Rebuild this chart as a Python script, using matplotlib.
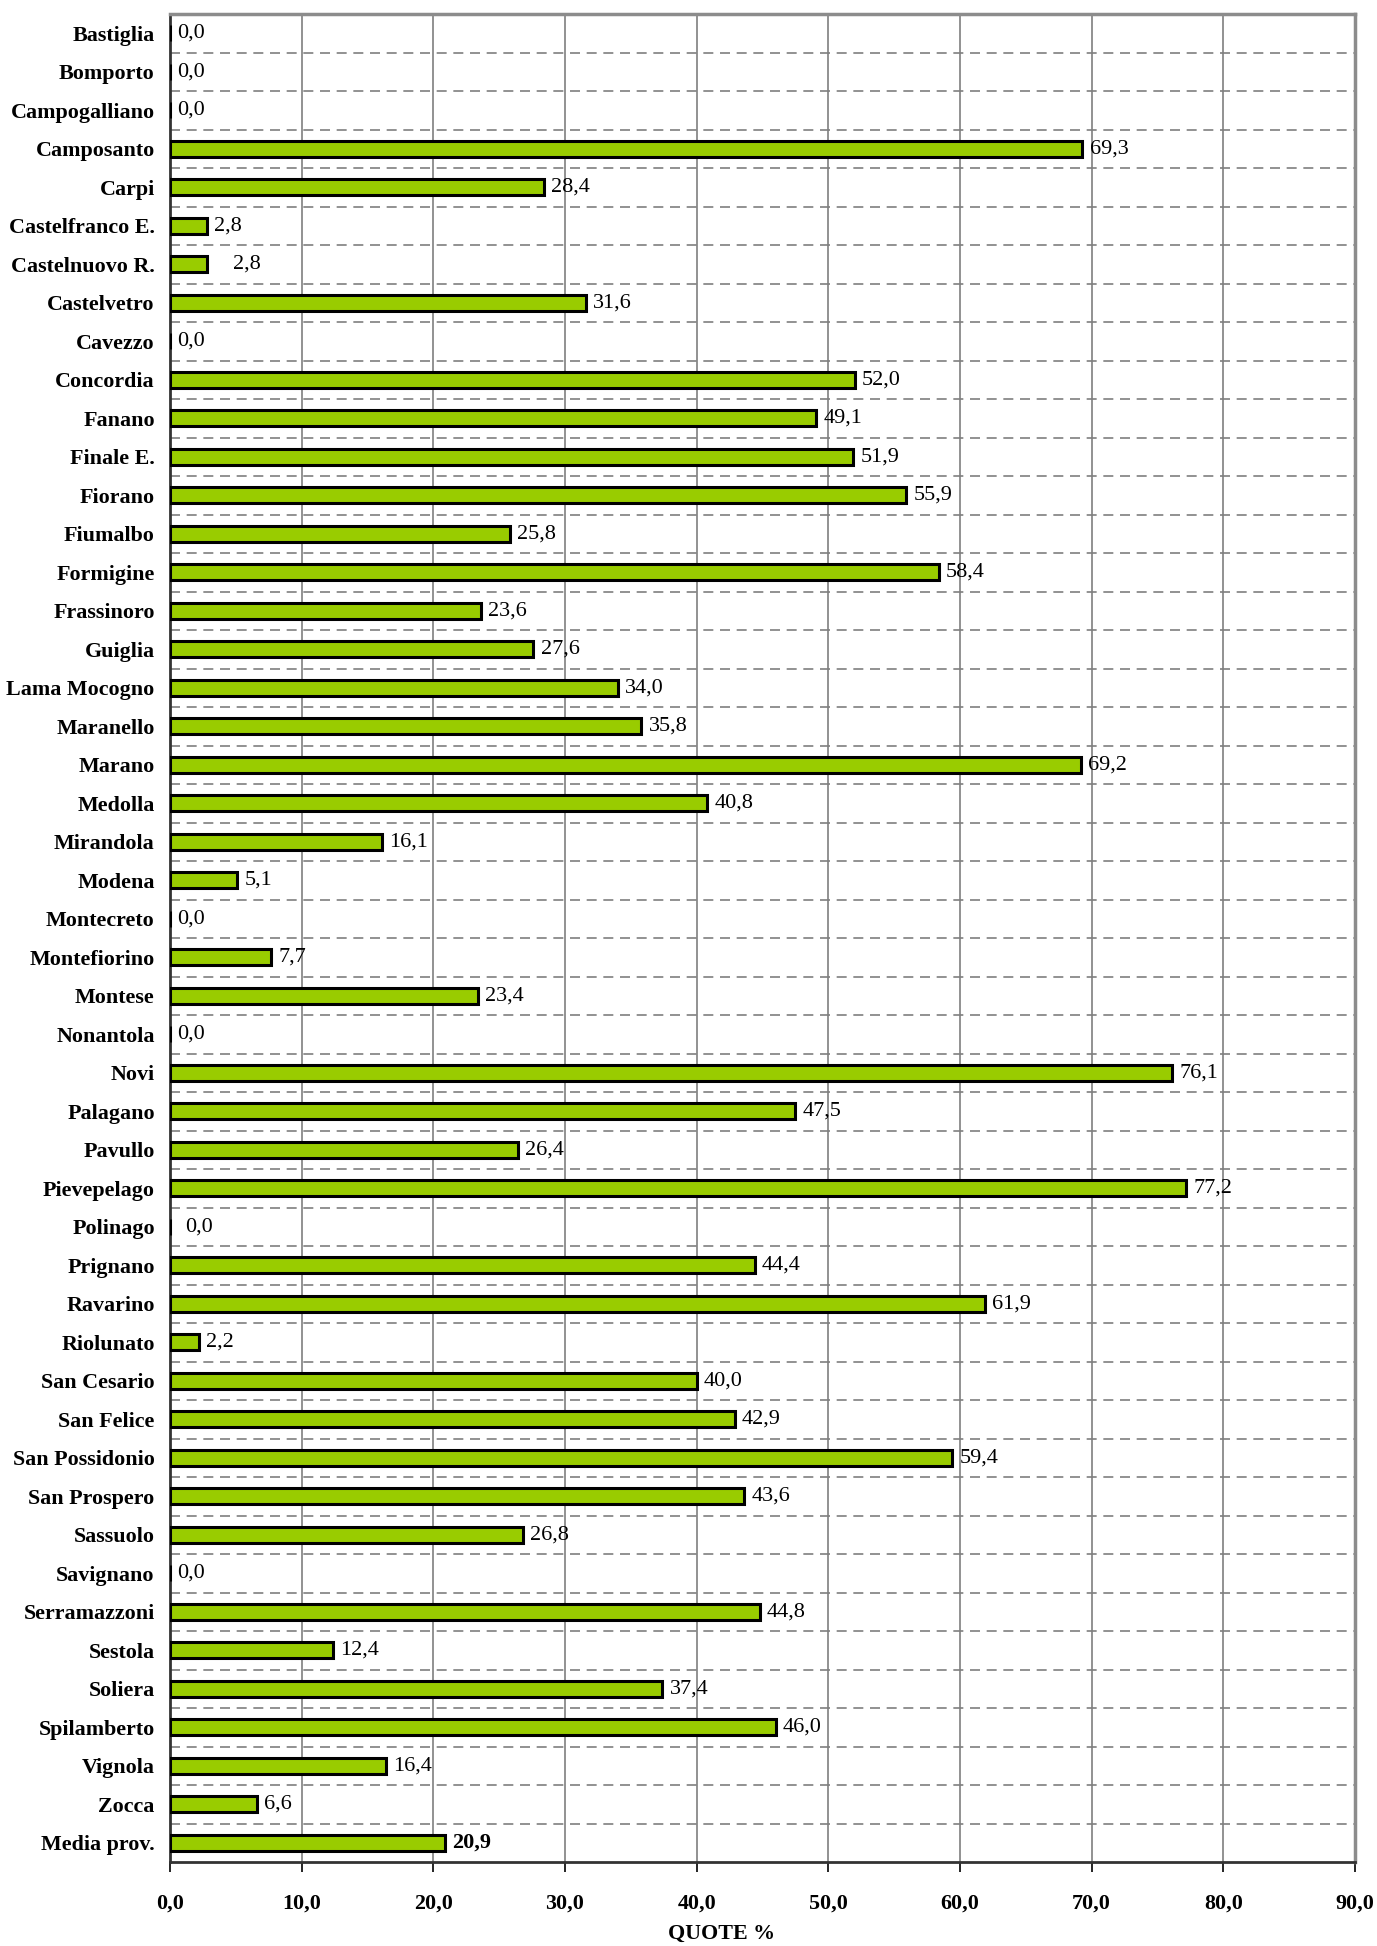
import matplotlib
matplotlib.use("Agg")
import matplotlib.pyplot as plt
import numpy as np

categories = ["Bastiglia", "Bomporto", "Campogalliano", "Camposanto", "Carpi",
              "Castelfranco E.", "Castelnuovo R.", "Castelvetro", "Cavezzo", "Concordia",
              "Fanano", "Finale E.", "Fiorano", "Fiumalbo", "Formigine", "Frassinoro",
              "Guiglia", "Lama Mocogno", "Maranello", "Marano", "Medolla", "Mirandola",
              "Modena", "Montecreto", "Montefiorino", "Montese", "Nonantola", "Novi",
              "Palagano", "Pavullo", "Pievepelago", "Polinago", "Prignano", "Ravarino",
              "Riolunato", "San Cesario", "San Felice", "San Possidonio", "San Prospero",
              "Sassuolo", "Savignano", "Serramazzoni", "Sestola", "Soliera",
              "Spilamberto", "Vignola", "Zocca", "Media prov."]
values = [0.0, 0.0, 0.0, 69.3, 28.4, 2.8, 2.8, 31.6, 0.0, 52.0,
          49.1, 51.9, 55.9, 25.8, 58.4, 23.6, 27.6, 34.0, 35.8, 69.2,
          40.8, 16.1, 5.1, 0.0, 7.7, 23.4, 0.0, 76.1, 47.5, 26.4,
          77.2, 0.0, 44.4, 61.9, 2.2, 40.0, 42.9, 59.4, 43.6, 26.8,
          0.0, 44.8, 12.4, 37.4, 46.0, 16.4, 6.6, 20.9]
xticks = [0, 10, 20, 30, 40, 50, 60, 70, 80, 90]
xtick_labels = ["0,0", "10,0", "20,0", "30,0", "40,0", "50,0", "60,0", "70,0", "80,0", "90,0"]
xlabel = "QUOTE %"

plt.rcParams['font.family'] = ['Liberation Serif', 'DejaVu Serif']

W, H = 1377, 1946
fig = plt.figure(figsize=(W / 100, H / 100), dpi=100)
ax = fig.add_axes([170 / W, 1 - 1862 / H, (1355 - 170) / W, (1862 - 14) / H])

n = len(categories)
y = np.arange(n)
ax.barh(y, values, height=0.42, color="#99CC00", edgecolor="black", linewidth=2.2, zorder=3)

ax.set_xlim(0, 90)
ax.set_ylim(n - 0.5, -0.5)

# vertical grid
for xv in xticks[1:-1]:
    ax.axvline(xv, color="#7f7f7f", linewidth=1.2, zorder=1)
# horizontal dashed separators
for k in range(n - 1):
    ax.axhline(k + 0.5, color="#7f7f7f", linewidth=1.2, linestyle=(0, (6, 4)), zorder=2)

ax.set_yticks(y)
ax.set_yticklabels(categories, fontsize=15.8, fontweight="bold")
ax.tick_params(axis="y", length=0, pad=11)
ax.set_xticks(xticks)
ax.set_xticklabels(xtick_labels, fontsize=15.8, fontweight="bold")
ax.tick_params(axis="x", length=7, width=1.2, color="black", pad=16, direction="out")

for name, sp in ax.spines.items():
    if name in ("left", "bottom"):
        sp.set_color("#333333")
        sp.set_linewidth(2)
    else:
        sp.set_color("#8c8c8c")
        sp.set_linewidth(2.5)

for i, (cat, v) in enumerate(zip(categories, values)):
    txt = f"{v:.1f}".replace(".", ",")
    extra = 0.0
    if cat in ("Castelnuovo R.",):
        extra = 1.4
    if cat in ("Polinago",):
        extra = 0.6
    weight = "bold" if cat == "Media prov." else "normal"
    ax.text(v + 0.55 + extra, i, txt, va="center", ha="left", fontsize=16,
            fontweight=weight, zorder=4)

fig.text(722 / W, 1 - 1934 / H, xlabel, ha="center", va="center",
         fontsize=15.8, fontweight="bold")

fig.savefig("out.png", dpi=100)
